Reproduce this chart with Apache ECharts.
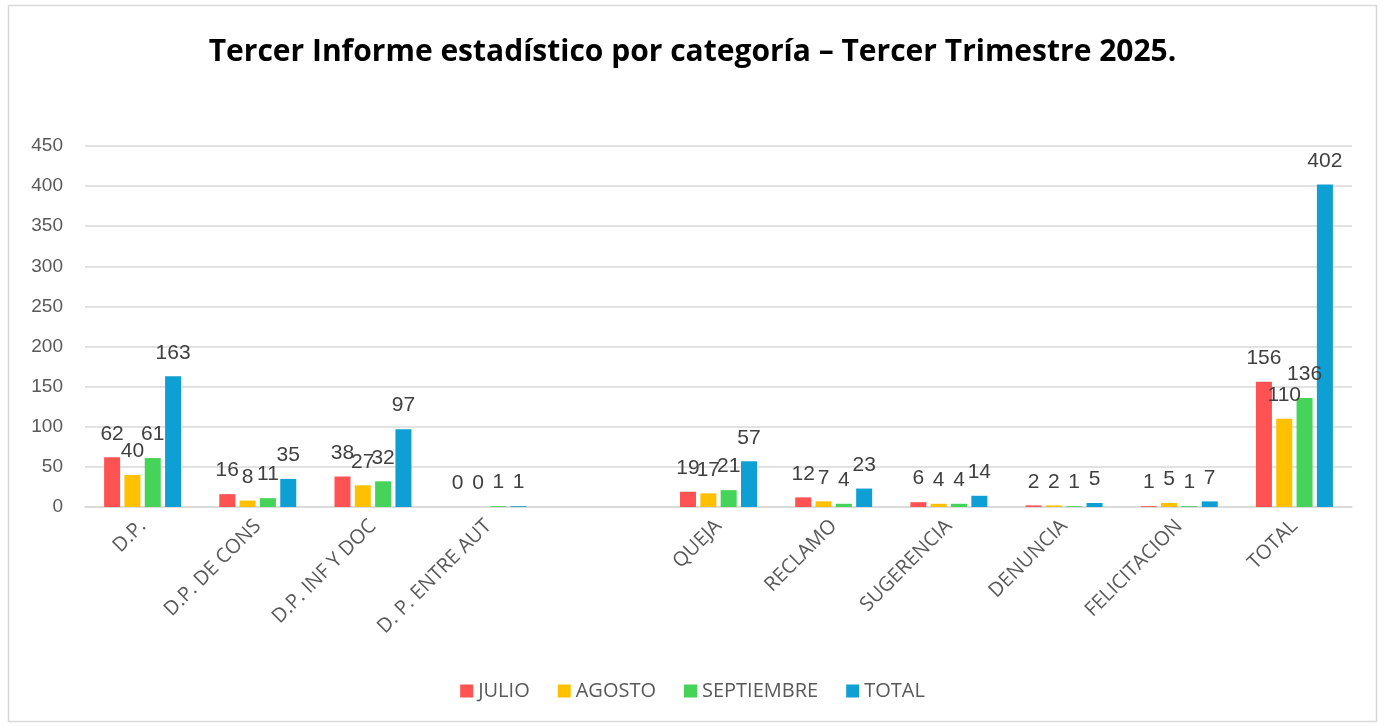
<!DOCTYPE html>
<html>
<head>
<meta charset="utf-8">
<script src="https://cdn.jsdelivr.net/npm/echarts@6/dist/echarts.min.js"></script>
<style>
html,body{margin:0;padding:0;background:#fff;}
#c{width:1385px;height:726px;}
</style>
</head>
<body>
<div id="c"></div>
<script>
var categories = ['D.P.', 'D.P. DE CONS', 'D.P. INF Y DOC', 'D. P. ENTRE AUT', '', 'QUEJA', 'RECLAMO', 'SUGERENCIA', 'DENUNCIA', 'FELICITACION', 'TOTAL'];
var seriesNames = ['JULIO', 'AGOSTO', 'SEPTIEMBRE', 'TOTAL'];
var julio      = [62, 16, 38, 0, '-', 19, 12, 6, 2, 1, 156];
var agosto     = [40, 8, 27, 0, '-', 17, 7, 4, 2, 5, 110];
var septiembre = [61, 11, 32, 1, '-', 21, 4, 4, 1, 1, 136];
var total      = [163, 35, 97, 1, '-', 57, 23, 14, 5, 7, 402];
var colors = ['#FF5252', '#FFC000', '#45D35A', '#0E9FD4'];
var yTicks = { min: 0, max: 450, interval: 50 };

var numFont = '"Liberation Sans Narrow", "Arial Narrow", "Liberation Sans", Arial, sans-serif';
var txtFont = '"Open Sans", "Noto Sans", "Liberation Sans", sans-serif';

var allData = [julio, agosto, septiembre, total];
var series = seriesNames.map(function (n, i) {
  return {
    name: n,
    type: 'bar',
    data: allData[i],
    barWidth: 16,
    barGap: '27%',
    itemStyle: { color: colors[i] },
    label: {
      show: true,
      position: 'top',
      distance: 13,
      color: '#404040',
      fontSize: 21,
      fontFamily: numFont
    }
  };
});

var chart = echarts.init(document.getElementById('c'), null, { renderer: 'canvas' });
chart.setOption({
  animation: false,
  backgroundColor: '#ffffff',
  title: {
    text: 'Tercer Informe estadístico por categoría – Tercer Trimestre 2025.',
    left: 'center',
    top: 32,
    textStyle: { fontSize: 30, fontWeight: 'bold', color: '#000000', fontFamily: txtFont }
  },
  graphic: [{
    type: 'rect',
    shape: { x: 8.5, y: 5.5, width: 1368, height: 716 },
    style: { fill: 'none', stroke: '#d9d9d9', lineWidth: 1.5 },
    silent: true
  }],
  legend: {
    data: seriesNames,
    bottom: 20,
    left: 'center',
    itemWidth: 13,
    itemHeight: 13,
    itemGap: 28,
    icon: 'rect',
    textStyle: { fontSize: 20, color: '#595959', fontFamily: txtFont }
  },
  grid: { left: 85, right: 33, top: 146, bottom: 219, containLabel: false },
  xAxis: {
    type: 'category',
    data: categories,
    axisLine: { lineStyle: { color: '#d9d9d9', width: 1.5 } },
    axisTick: { show: false },
    axisLabel: {
      interval: 0,
      rotate: 45,
      margin: 16,
      fontSize: 20,
      color: '#595959',
      fontFamily: txtFont
    }
  },
  yAxis: {
    type: 'value',
    min: yTicks.min,
    max: yTicks.max,
    interval: yTicks.interval,
    axisLine: { show: false },
    axisTick: { show: false },
    splitLine: { lineStyle: { color: '#d9d9d9', width: 1.5 } },
    axisLabel: { fontSize: 19, color: '#595959', margin: 22, fontFamily: numFont }
  },
  series: series
});
</script>
</body>
</html>
